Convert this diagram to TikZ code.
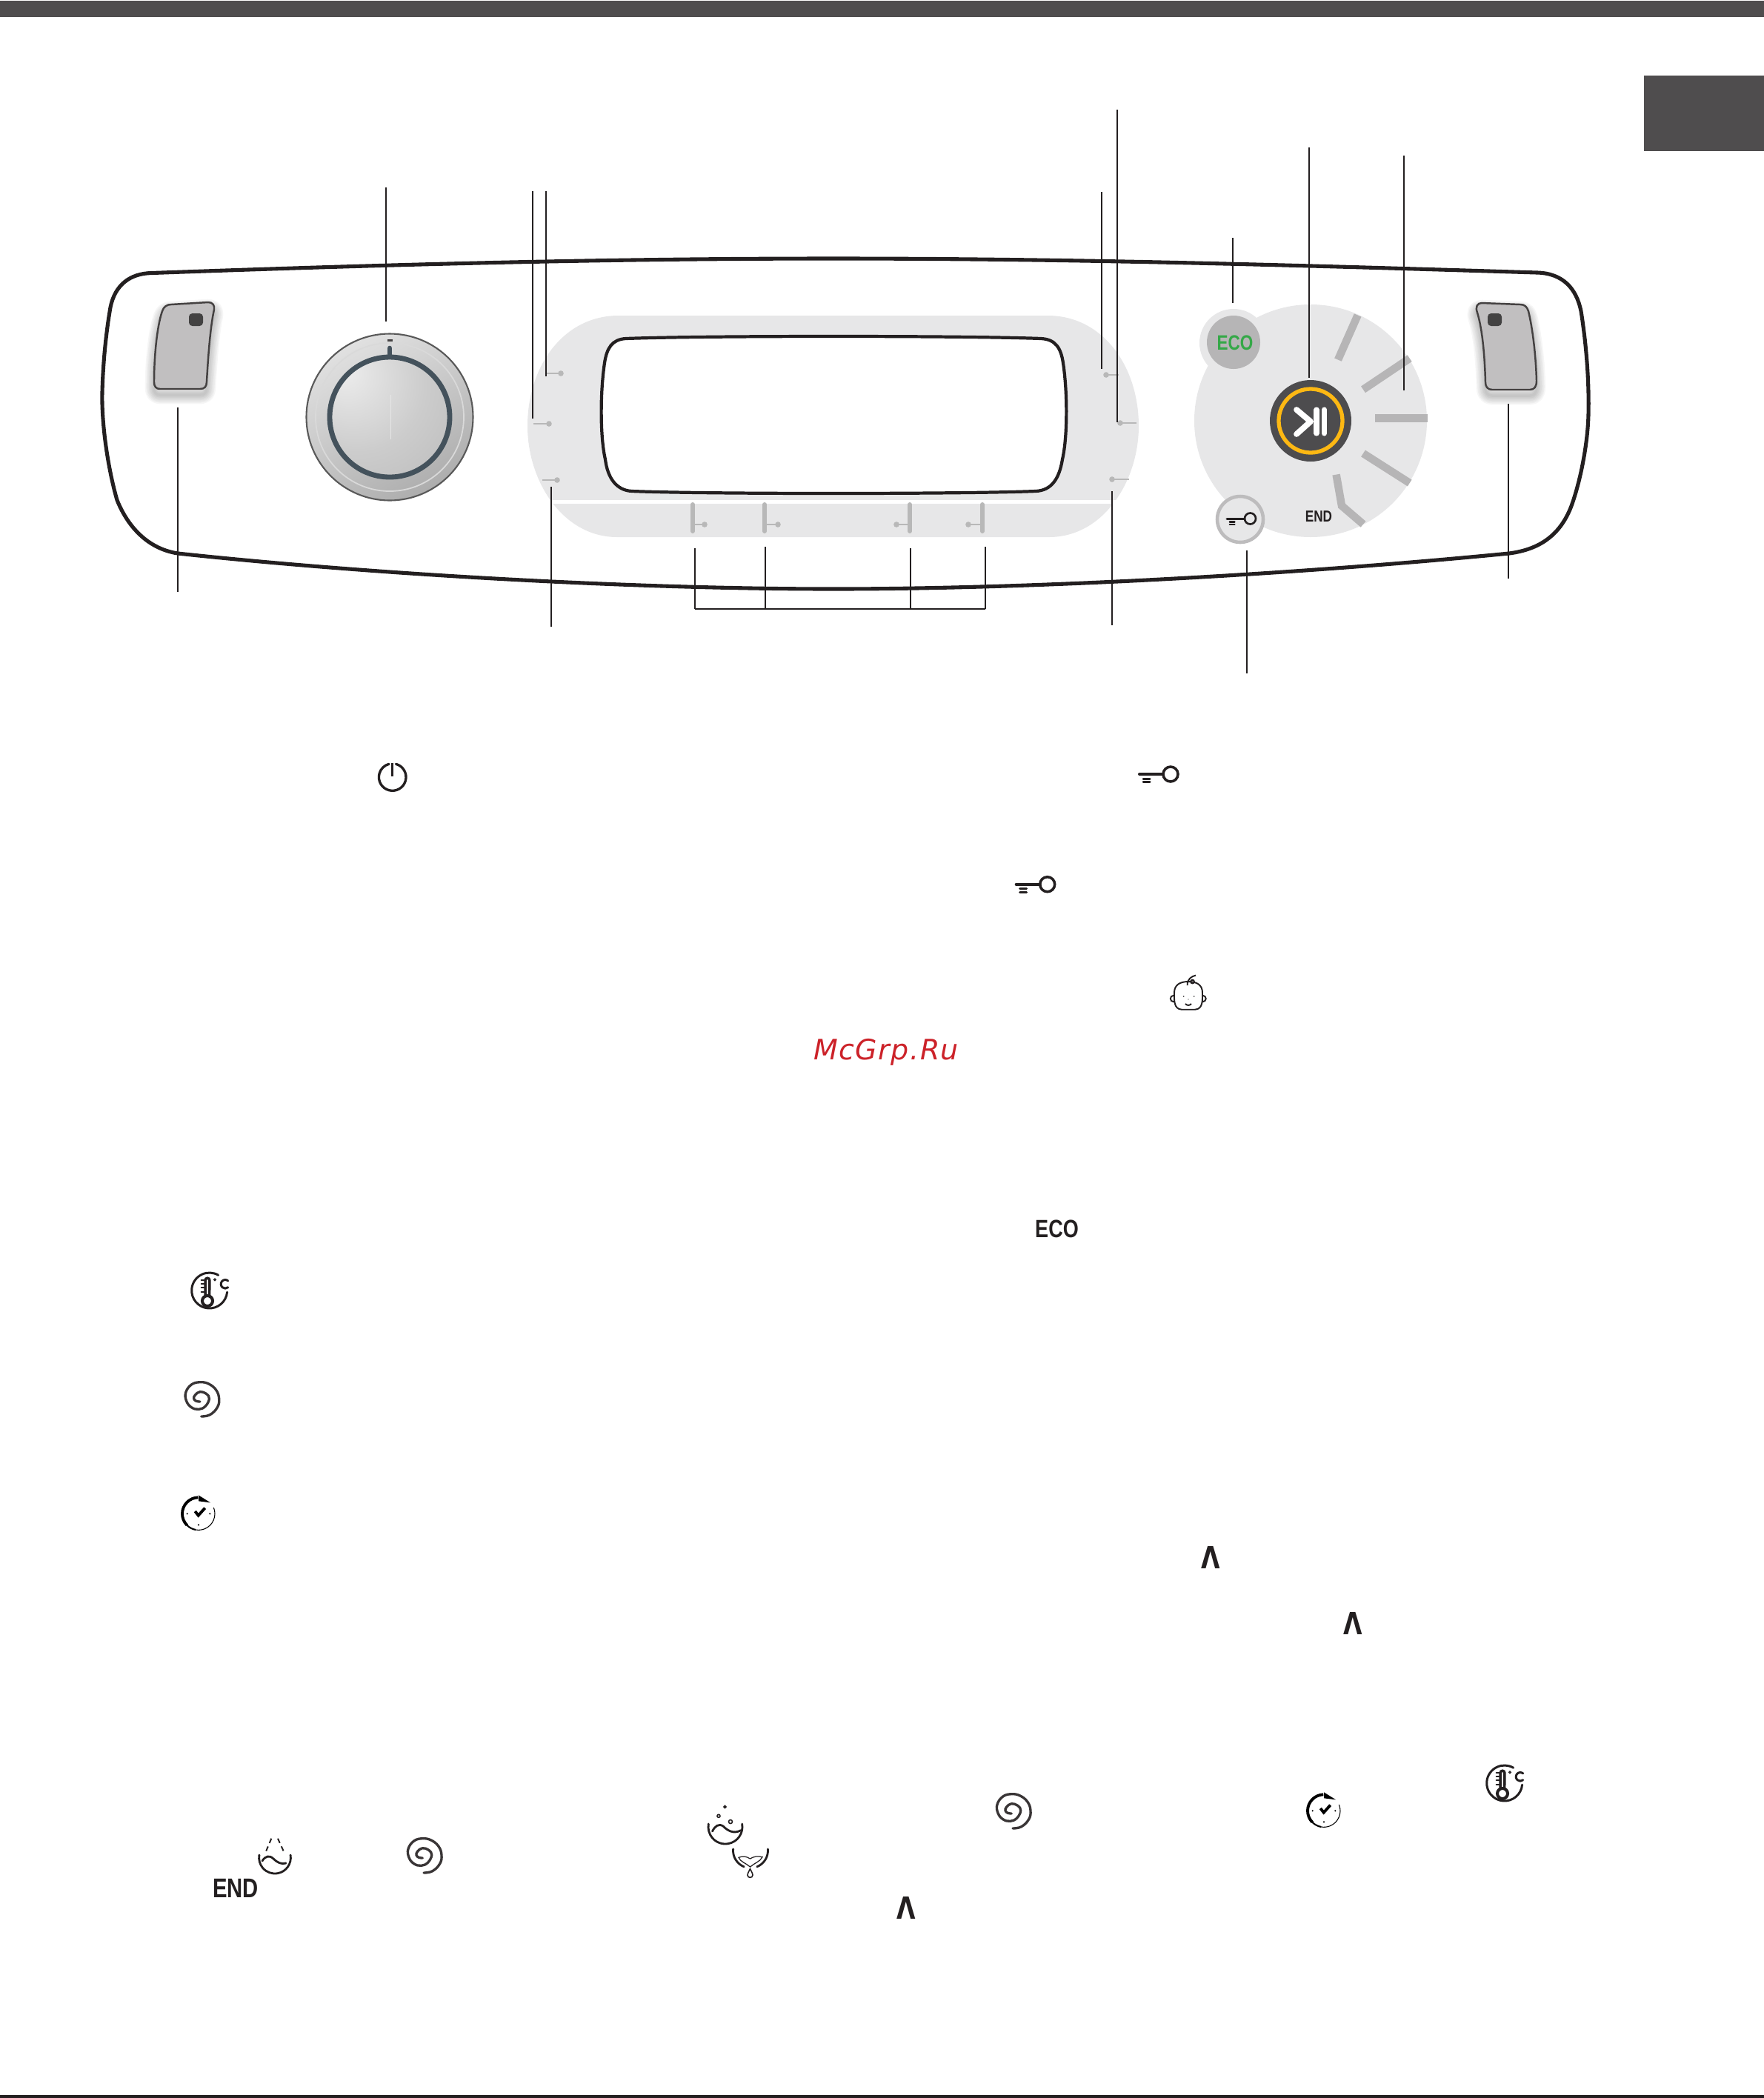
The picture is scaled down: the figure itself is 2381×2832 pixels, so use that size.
\documentclass[tikz,border=0pt]{standalone}
\usepackage{fontspec}
\setmainfont{Liberation Sans}
\newfontfamily\dinfont[FakeStretch=0.8]{Liberation Sans}
\newfontfamily\upfont[FakeStretch=0.8]{DejaVu Sans}
\newfontfamily\markfont[LetterSpace=4]{DejaVu Sans}

\definecolor{barcol}{HTML}{4F4D4E}
\definecolor{inkcol}{HTML}{231F20}
\definecolor{padcol}{HTML}{E7E7E8}
\definecolor{stripcol}{HTML}{B6B5B6}
\definecolor{btncol}{HTML}{C1BFC0}
\definecolor{ringcol}{HTML}{44525C}
\definecolor{playcol}{HTML}{4D4C4E}
\definecolor{goldcol}{HTML}{FDB813}
\definecolor{ecocol}{HTML}{35A848}
\definecolor{markcol}{HTML}{CC2229}

\pgfdeclareradialshading{knobface}{\pgfpoint{-0.7cm}{0.7cm}}{
    color(0cm)=(black!7); color(1cm)=(black!20); color(2.2cm)=(black!30); color(3.2cm)=(black!34)}

\tikzset{
    leader/.style={draw=inkcol, line width=0.55pt},
    leaderthin/.style={draw=inkcol, line width=0.3pt},
    glyph/.style={draw=inkcol, line width=0.85pt, line cap=round},
    strip/.style={draw=stripcol, line width=3pt},
    dinlabel/.style={inner sep=0pt, text=inkcol, font=\dinfont\bfseries},
    tick/.style={draw=black!28, line width=0.6pt},
    tickdot/.style={fill=black!28, draw=none}
}

\newcommand{\keyglyph}[3]{
    \begin{scope}[shift={(#1,#2)}, scale=#3]
        \draw[glyph, line width=#3*1.15pt] (-42,0) -- (-10,0);
        \draw[glyph, line width=#3*1pt] (0,0) circle (10);
        \draw[glyph, line width=#3*0.85pt] (-37,6) -- (-28,6);
        \draw[glyph, line width=#3*0.85pt] (-37,10.5) -- (-28,10.5);
    \end{scope}
}
\newcommand{\spiralglyph}[2]{
    \draw[glyph, draw=inkcol!90, line width=0.95pt, shift={(#1,#2)}] plot[smooth, tension=0.7] coordinates
        {(1,23) (12.7,20.7) (22.7,10.7) (25,-1) (21,-12.7) (11,-21) (-0.7,-23.3) (-12.3,-20) (-20,-9.3) (-19,2.3)
         (-12.3,10.7) (-2.3,13.3) (6.7,9) (11.7,-1) (7.7,-7.7) (-0.7,-10.3) (-7.3,-6) (-9,-1) (-5.7,2.3) (-0.7,3)};
}
\newcommand{\thermoglyph}[2]{
    \begin{scope}[shift={(#1,#2)}]
        \draw[glyph] (5:24) arc (5:300:24);
        \draw[glyph, line width=1pt] (-5.5,8) -- (-5.5,-14) arc (180:360:2.8) -- (0,8);
        \draw[glyph, line width=1.15pt] (-2.7,14) circle (7);
        \foreach \y in {-13.7,-8.7,-3.7,2}{
            \draw[glyph, line width=0.6pt] (-11,\y) -- (-6.5,\y);
        }
        \draw[glyph, line width=0.35pt] (7.3,-14.7) circle (1.4);
        \draw[glyph, line width=0.85pt, shift={(21.3,-8.7)}] (310:5.8) arc (310:50:5.8);
    \end{scope}
}
\newcommand{\clockglyph}[2]{
    \begin{scope}[shift={(#1,#2)}]
        \draw[draw=black, line width=0.3pt] (-22:22) arc (-22:100:22);
        \draw[draw=black, line width=0.6pt] (100:22) arc (100:135:22);
        \draw[draw=black, line width=1.1pt] (135:22) arc (135:268:22);
        \fill[black] (0,-25) -- (16,-15) -- (0,-17) -- cycle;
        \fill[black] (-15.3,0) circle (1.2) (15.3,0) circle (1.2) (0,15) circle (1.2);
        \draw[draw=black, line width=1.1pt] (-4.7,-3.3) -- (-0.3,2.3) -- (8.7,-7.7);
    \end{scope}
}
\newcommand{\leftbtnpath}{
    (231,411) -- (281,408) .. controls (287,408) and (290,412) .. (289,418)
    .. controls (284,440) and (281,480) .. (279,515) .. controls (279,522) and (276,525) .. (270,525)
    -- (216,525) .. controls (211,525) and (208,522) .. (208,516)
    .. controls (208,480) and (212,440) .. (219,420) .. controls (221,414) and (225,411) .. (231,411) -- cycle
}
\newcommand{\rightbtnpath}{
    (2000,409) -- (2052,411) .. controls (2058,411) and (2061,414) .. (2063,420)
    .. controls (2069,445) and (2073,480) .. (2074,514) .. controls (2074,522) and (2071,526) .. (2065,526)
    -- (2014,526) .. controls (2008,526) and (2005,522) .. (2005,516)
    .. controls (2004,480) and (2001,445) .. (1994,422) .. controls (1991,414) and (1994,409) .. (2000,409) -- cycle
}
\newcommand{\leaderlist}{
    btnl/240/550/799, knob/521/253/434, ledb/719/258/565, ledr/1487/259/498,
    ledc/744/657/846, ledd/1501/663/844, lede/1508/148/570,
    eco/1664/321/409, lock/1683/743/909, btnr/2036/545/781,
    leg1/938/740/822, leg2/1033/738/822, leg3/1229/740/822, leg4/1330/738/822
}

\begin{document}
\begin{tikzpicture}[x=0.01cm, y=0.01cm, yscale=-1]
    \useasboundingbox (0,0) rectangle (2381,2832);
    % Page furniture
    \fill[barcol] (0,1) rectangle (2381,23);
    \fill[barcol] (2219,102) rectangle (2381,204);
    \fill[inkcol] (0,2828) rectangle (2381,2832);

    % Panel outline
    \draw[inkcol, line width=1.45pt] (205,368.5) .. controls (500,358) and (800,349) .. (1125,349)
        .. controls (1450,349) and (1750,358) .. (2075,368)
        .. controls (2110,369) and (2128,390) .. (2134,420)
        .. controls (2142,470) and (2145,520) .. (2144,560)
        .. controls (2143,600) and (2133,650) .. (2121,683)
        .. controls (2105,725) and (2075,742) .. (2037,747)
        .. controls (1750,775) and (1400,795) .. (1125,795)
        .. controls (850,795) and (500,775) .. (240,747)
        .. controls (195,740) and (170,705) .. (158,675)
        .. controls (145,630) and (137,570) .. (138,530)
        .. controls (139,490) and (143,450) .. (149,415)
        .. controls (155,385) and (175,369) .. (205,368.5) -- cycle;

    % Display pad and window
    \fill[padcol] (835,426) -- (1414,426) .. controls (1489,426) and (1537,495) .. (1537,575)
        .. controls (1537,650) and (1489,725) .. (1416,725) -- (833,725)
        .. controls (760,725) and (712,650) .. (712,575)
        .. controls (712,495) and (760,426) .. (835,426) -- cycle;
    \fill[white] (700,675) rectangle (1550,680);
    \draw[inkcol, fill=white, line width=1.2pt] (845,457) .. controls (950,453) and (1300,453) .. (1405,457)
        .. controls (1425,458) and (1432,470) .. (1435,490)
        .. controls (1441,530) and (1441,590) .. (1434,620)
        .. controls (1430,645) and (1420,662) .. (1398,663)
        .. controls (1300,667) and (950,667) .. (853,663)
        .. controls (832,662) and (820,645) .. (817,620)
        .. controls (810,590) and (810,530) .. (816,490)
        .. controls (819,470) and (826,458) .. (845,457) -- cycle;

    % Side marks of the display
    \foreach \xa/\xb/\y in {737/757/504, 720/741/572, 732/752/648, 1510/1493/506, 1534/1512/571, 1524/1501/647}{
        \draw[tick] (\xa,\y) -- (\xb,\y);
        \fill[tickdot] (\xb,\y) circle (3.8);
    }
    % Lower marks of the display
    \foreach \x/\xb in {935/951, 1032/1050, 1228/1210, 1326/1307}{
        \draw[draw=black!28, line width=1.7pt, line cap=round] (\x,681) -- (\x,717);
        \draw[tick] (\x,708) -- (\xb,708);
        \fill[tickdot] (\xb,708) circle (3.8);
    }

    % Buttons with their soft shadow
    \foreach \w in {1,2,...,7}{
        \draw[black, opacity=0.035, line width=\w pt, line join=round, shift={(0,8)}] \leftbtnpath;
        \draw[black, opacity=0.035, line width=\w pt, line join=round, shift={(0,8)}] \rightbtnpath;
    }
    \draw[draw=inkcol!85, fill=btncol, line width=0.7pt] \leftbtnpath;
    \draw[draw=inkcol!85, fill=btncol, line width=0.7pt] \rightbtnpath;
    \fill[barcol!85!black, rounded corners=1.3pt] (255,423) rectangle (274,440);
    \fill[barcol!85!black, rounded corners=1.3pt] (2008,423) rectangle (2027,440);

    % Knob
    \draw[draw=black!65, line width=0.6pt, top color=black!12, bottom color=black!32, shading angle=30] (526,563) circle (112.5);
    \draw[draw=white!85!black, line width=0.5pt] (526,563) circle (100);
    \fill[inkcol!85] (522.5,458) rectangle (529.5,461);
    \draw[draw=ringcol, line width=1.9pt, line cap=round] (526,470) -- (526,482);
    \shade[shading=knobface] (526,563) circle (81);
    \draw[draw=ringcol, line width=1.95pt] (526,563) circle (81);
    \draw[draw=white!90!black, line width=0.2pt] (527,533) -- (527,593);

    % Round pad, programme strips and key
    \fill[padcol] (1769,568) circle (157);
    \draw[strip] (1832.6,425.5) -- (1806,485.6);
    \draw[strip] (1902.7,483.7) -- (1840,525.8);
    \draw[strip] (1856,564.4) -- (1927,564.4);
    \draw[strip] (1840,612) -- (1902.7,652);
    \draw[strip] (1803.6,640.6) -- (1811,682.7) -- (1840,707.6);
    \fill[padcol] (1665,463) circle (46);
    \fill[stripcol] (1665,462) circle (36);
    \node[dinlabel, text=ecocol, font=\dinfont\bfseries\fontsize{8}{8}\selectfont] (ecotxt) at (1667,463) {ECO};

    \fill[playcol] (1769,568) circle (55);
    \draw[draw=goldcol, line width=1.5pt] (1769,568) circle (43);
    \draw[draw=white, line width=2.2pt, line cap=round, line join=round] (1750,553) -- (1769,569) -- (1750,586);
    \draw[draw=white, line width=2pt, line cap=round] (1777,553) -- (1777,585);
    \draw[draw=white, line width=2pt, line cap=round] (1787.5,553) -- (1787.5,585);

    \node[dinlabel, font=\dinfont\bfseries\fontsize{6.1}{6}\selectfont] (endtxt) at (1780,697) {END};
    \draw[draw=stripcol!90!white, fill=padcol, line width=1.3pt] (1674,701) circle (31);
    \keyglyph{1687.5}{700}{0.75}

    % Leader lines
    \foreach \name/\x/\ya/\yb in \leaderlist{
        \coordinate (\name-top) at (\x,\ya);
        \coordinate (\name-end) at (\x,\yb);
        \draw[leader] (\name-top) -- (\name-end);
    }
    \coordinate (leda-top) at (737,258);
    \coordinate (leda-end) at (737,508);
    \draw[leaderthin] (leda-top) -- (leda-end);
    \coordinate (play-top) at (1767,199);
    \coordinate (play-end) at (1767,510);
    \draw[leaderthin] (play-top) -- (play-end);
    \coordinate (strips-top) at (1895,210);
    \coordinate (strips-end) at (1895,527);
    \draw[leaderthin] (strips-top) -- (strips-end);
    \draw[leader] (leg1-end) -- (leg4-end);

    % Icons in the text
    \draw[glyph, line width=0.95pt, shift={(529.7,1049)}] (-75:18.3) arc (-75:255:18.3);
    \draw[glyph, line width=1pt, line cap=butt] (529.7,1030) -- (529.7,1048);
    \keyglyph{1580}{1045}{1}
    \keyglyph{1413.7}{1193.7}{1}

    % Baby face
    \begin{scope}[line width=0.55pt, inkcol]
        \draw (1584,1348) circle (4.2);
        \draw (1623.5,1348) circle (4.2);
        \draw[fill=white] (1604,1325) .. controls (1592,1325) and (1585,1330) .. (1585,1340)
            .. controls (1585,1350) and (1584,1362) .. (1595,1362.7) -- (1613,1362.7)
            .. controls (1624,1362) and (1623,1350) .. (1623,1340)
            .. controls (1623,1330) and (1616,1325) .. (1604,1325) -- cycle;
        \draw (1602.7,1330) .. controls (1602,1322) and (1608,1318) .. (1614,1316.5);
        \draw (1609.5,1325) circle (2.4);
        \draw (1600,1355) .. controls (1602,1357.5) and (1606,1357.5) .. (1608,1355);
        \fill (1597.7,1345) circle (0.9) (1611.7,1345) circle (0.9) (1604,1349) circle (0.6);
    \end{scope}

    \node[inner sep=0pt, text=markcol, font=\markfont\itshape\fontsize{10.8}{11}\selectfont] (watermark) at (1196,1420) {McGrp.Ru};
    \node[dinlabel, font=\dinfont\bfseries\fontsize{9.6}{10}\selectfont] (ecoword) at (1426.5,1658.5) {ECO};
    \node[dinlabel, font=\dinfont\bfseries\fontsize{10.4}{10}\selectfont] (endword) at (318,2549) {END};

    \thermoglyph{282.7}{1742}
    \thermoglyph{2030.7}{2407}
    \spiralglyph{270.7}{1889}
    \spiralglyph{571}{2505}
    \spiralglyph{1366}{2445}
    \clockglyph{268}{2043.3}
    \clockglyph{1787}{2444.3}

    % Up marks
    \foreach \name/\x/\y in {upa/1634.7/2102, upb/1826/2191, upc/1223/2575}{
        \node[dinlabel, font=\upfont\bfseries\fontsize{11.7}{12}\selectfont] (\name) at (\x,\y) {Λ};
    }

    % Bowl pictures
    \begin{scope}[glyph, line width=0.8pt]
        \draw[shift={(371,2507.6)}] (-10:21.4) arc (-10:190:21.4);
        \draw (354,2512) .. controls (358,2505) and (364,2504) .. (369,2509)
            .. controls (374,2514) and (380,2517) .. (386,2515);
        \draw[line width=0.55pt, dash pattern=on 1.9pt off 1.4pt, line cap=butt] (366.3,2481.7) -- (358.6,2500);
        \draw[line width=0.55pt, dash pattern=on 1.9pt off 1.4pt, line cap=butt] (375,2481.7) -- (383.3,2500);

        \draw[shift={(979,2466)}] (-10:23) arc (-10:190:23);
        \draw (961.5,2472) .. controls (965,2465) and (970,2461) .. (976,2465)
            .. controls (982,2471) and (990,2476) .. (1000,2470.7);
        \draw[line width=0.45pt] (978.5,2439) circle (1.5) (970,2451.3) circle (2) (986,2459) circle (2.5);

        \draw[shift={(1013,2498)}] (-5:23.5) arc (-5:68:23.5);
        \draw[shift={(1013,2498)}] (112:23.5) arc (112:185:23.5);
        \draw[line width=0.35pt] (997,2507.3) .. controls (1003,2505) and (1008,2506) .. (1012.5,2509)
            .. controls (1017,2506) and (1023,2505) .. (1029,2506.7) .. controls (1026,2513) and (1018,2515) .. (1012.5,2520)
            .. controls (1007,2515) and (999,2513) .. (997,2507.3) -- cycle;
        \draw[line width=0.45pt] (1012.5,2522.7) .. controls (1015,2527) and (1016,2530) .. (1016,2531)
            .. controls (1016,2535.5) and (1009,2535.5) .. (1009,2531) .. controls (1009,2530) and (1010,2527) .. (1012.5,2522.7) -- cycle;
    \end{scope}
\end{tikzpicture}
\end{document}
